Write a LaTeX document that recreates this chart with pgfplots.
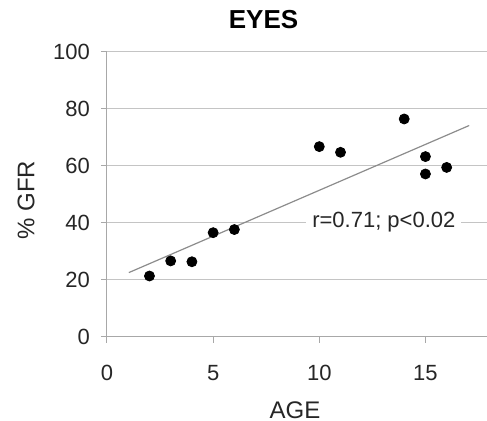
\documentclass[border=0pt]{standalone}
\usepackage{fontspec}
\setmainfont{Liberation Sans}
\usepackage{pgfplots}
\pgfplotsset{compat=1.18}
\definecolor{gridc}{HTML}{C4C4C4}
\definecolor{axc}{HTML}{A8A8A8}
\definecolor{trendc}{HTML}{8C8C8C}
\begin{document}
\begin{tikzpicture}
\path[use as bounding box] (-53.5pt,-42pt) rectangle (190pt,168.5pt);
\begin{axis}[
  at={(0,0)}, anchor=south west,
  scale only axis, width=190pt, height=142.5pt,
  xmin=0, xmax=17.9, ymin=0, ymax=100,
  axis x line=bottom, axis y line=left,
  axis line style={-, draw=axc, line width=0.5pt},
  xtick={0,5,10,15}, ytick={0,20,40,60,80,100},
  tick align=outside, major tick length=3pt,
  tick style={draw=axc, line width=0.5pt},
  ymajorgrids, grid style={draw=gridc, line width=0.5pt},
  /pgf/number format/assume math mode=true,
  ticklabel style={font=\fontsize{11}{13}\selectfont, text=black!85},
  xticklabel style={anchor=base, yshift=-19pt},
  yticklabel style={anchor=east, xshift=-2pt},
  clip=false,
]
\addplot[trendc, line width=0.6pt] coordinates {(1.03,22.6) (17.06,74.2)};
\addplot[only marks, mark=*, mark size=2.5pt, black] coordinates {
  (2,21.4) (3,26.7) (4,26.4) (5,36.6) (6,37.7) (10,66.8) (11,64.8)
  (14,76.5) (15,63.3) (15,57.2) (16,59.5)};
\node[anchor=base, fill=white, inner xsep=3pt, inner ysep=1pt, font=\fontsize{11}{13}\selectfont, text=black!85]
  at (axis cs:13.04,38.5) {r=0.71; p<0.02};
\end{axis}
\node[anchor=base, font=\bfseries\fontsize{13}{15}\selectfont] at (78.25pt,154pt) {EYES};
\node[rotate=90, font=\fontsize{12}{14}\selectfont, text=black!85] at (-40.5pt,68.5pt) {\% GFR};
\node[font=\fontsize{12}{14}\selectfont, text=black!85] at (94pt,-36.75pt) {AGE};
\end{tikzpicture}
\end{document}
